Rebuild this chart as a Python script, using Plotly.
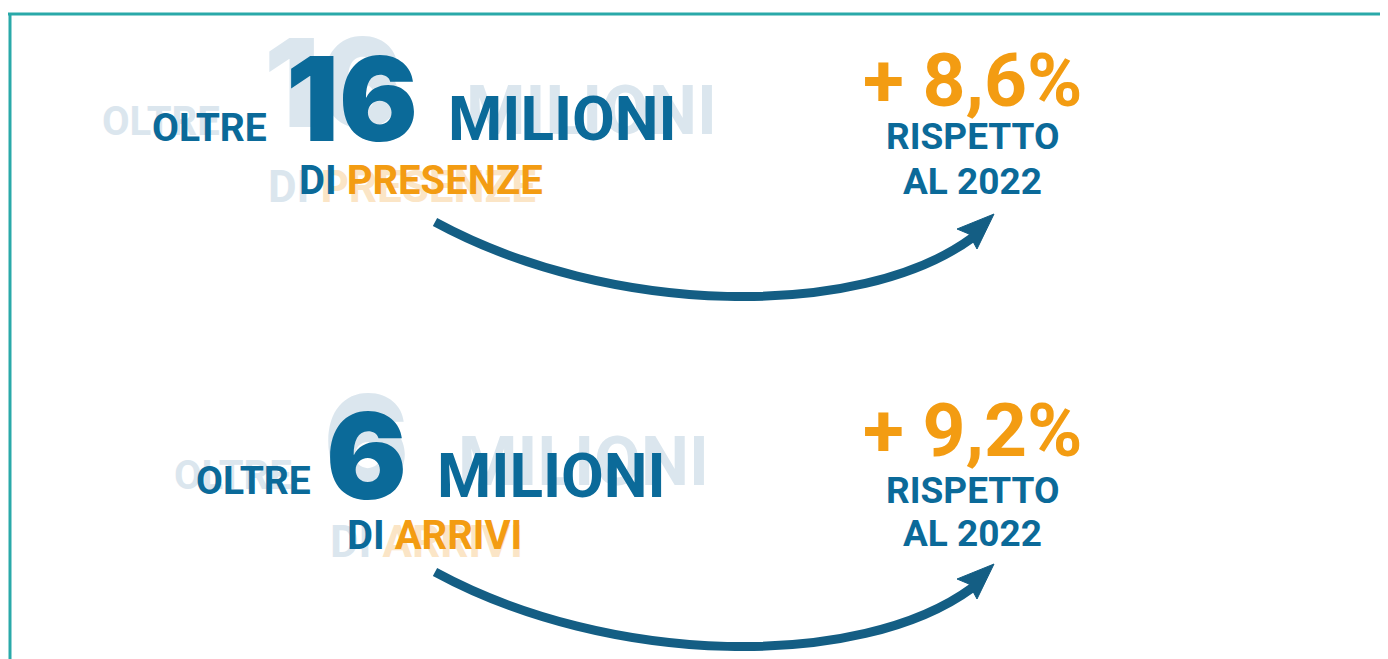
import plotly.graph_objects as go

# ---- data ----
big_numbers = ["16", "6"]
units = ["MILIONI", "MILIONI"]
prefix = ["OLTRE", "OLTRE"]
measures = ["PRESENZE", "ARRIVI"]
growth = ["+ 8,6%", "+ 9,2%"]
compare_label = ["RISPETTO", "AL 2022"]

W, H = 1388, 659
OFF = 8  # default page body margin
DARK = "#0b6a99"
ARROW = "#145e84"
ORANGE = "#f39c12"
GHOST = "#dbe6ee"
GHOST_OR = "#fbe5c6"
TEAL = "#2aa9a9"

fig = go.Figure()
ann = []


def txt(x, y, s, size, color, family="Roboto", weight=700, xanchor="left"):
    ann.append(dict(x=x, y=y, xref="x", yref="y", text=s, showarrow=False,
                    xanchor=xanchor, yanchor="middle",
                    font=dict(family=family, size=size, color=color, weight=weight)))


# block layouts (pixel geometry)
blocks = [
    dict(oltre=(150, 128), num=(284, 98), mil=(446, 118), di=(297, 180), pct=(972, 80), r1=(972, 136), r2=(972, 181),
         arrow_y=222, low=295, ghost_oltre=(100, 121), ghost_num=(262, 82), ghost_mil=(464, 111), ghost_di=(266, 187),
         num_size=117),
    dict(oltre=(194, 481), num=(324, 455), mil=(435, 475), di=(345, 535), pct=(972, 430), r1=(972, 490), r2=(972, 533),
         arrow_y=572, low=645, ghost_oltre=(172, 475), ghost_num=(322, 440), ghost_mil=(456, 462), ghost_di=(328, 542),
         num_size=120),
]

for i, b in enumerate(blocks):
    # ghost layer
    txt(*b["ghost_oltre"], prefix[i], 40, GHOST)
    txt(*b["ghost_num"], big_numbers[i], b["num_size"] + 6, GHOST, family="Inter", weight=900)
    txt(*b["ghost_mil"], units[i], 68, GHOST)
    txt(*b["ghost_di"], "DI <span style='color:%s'>%s</span>" % (GHOST_OR, measures[i]), 44, GHOST)
    # main layer
    txt(*b["oltre"], prefix[i], 39, DARK)
    txt(*b["num"], big_numbers[i], b["num_size"], DARK, family="Inter", weight=900)
    txt(*b["mil"], units[i], 62, DARK)
    txt(*b["di"], "DI <span style='color:%s'>%s</span>" % (ORANGE, measures[i]), 40, DARK)
    txt(*b["pct"], growth[i], 75, ORANGE, xanchor="center")
    txt(*b["r1"], compare_label[0], 37, DARK, xanchor="center")
    txt(*b["r2"], compare_label[1], 37, DARK, xanchor="center")

shapes = []
# frame
shapes.append(dict(type="line", xref="x", yref="y", x0=8, y0=14, x1=W, y1=14,
                   line=dict(color=TEAL, width=3)))
shapes.append(dict(type="line", xref="x", yref="y", x0=10, y0=13, x1=10, y1=H,
                   line=dict(color=TEAL, width=3)))

# arrows
for b in blocks:
    y0 = b["arrow_y"]
    lo = b["low"]
    sx, sy = 435, y0
    ex, ey = 972, y0 + 16
    c1x, c1y = 610, y0 + 95
    c2x, c2y = 860, lo + 25
    shapes.append(dict(type="path", xref="x", yref="y",
                       path=f"M {sx},{sy} C {c1x},{c1y} {c2x},{c2y} {ex},{ey}",
                       line=dict(color=ARROW, width=9)))
    tx, ty = 994, y0 - 8
    shapes.append(dict(type="path", xref="x", yref="y",
                       path=f"M {tx},{ty} L {tx-37},{ty+15} L {tx-25},{ty+20} L {tx-17},{ty+35} Z",
                       fillcolor=ARROW, line=dict(color=ARROW, width=1)))

fig.update_layout(
    width=W - OFF, height=H - OFF,
    margin=dict(l=0, r=0, t=0, b=0),
    paper_bgcolor="white", plot_bgcolor="white",
    xaxis=dict(range=[OFF, W], visible=False, fixedrange=True),
    yaxis=dict(range=[H, OFF], visible=False, fixedrange=True),
    annotations=ann, shapes=shapes, showlegend=False,
)
fig.write_html("out.html")
